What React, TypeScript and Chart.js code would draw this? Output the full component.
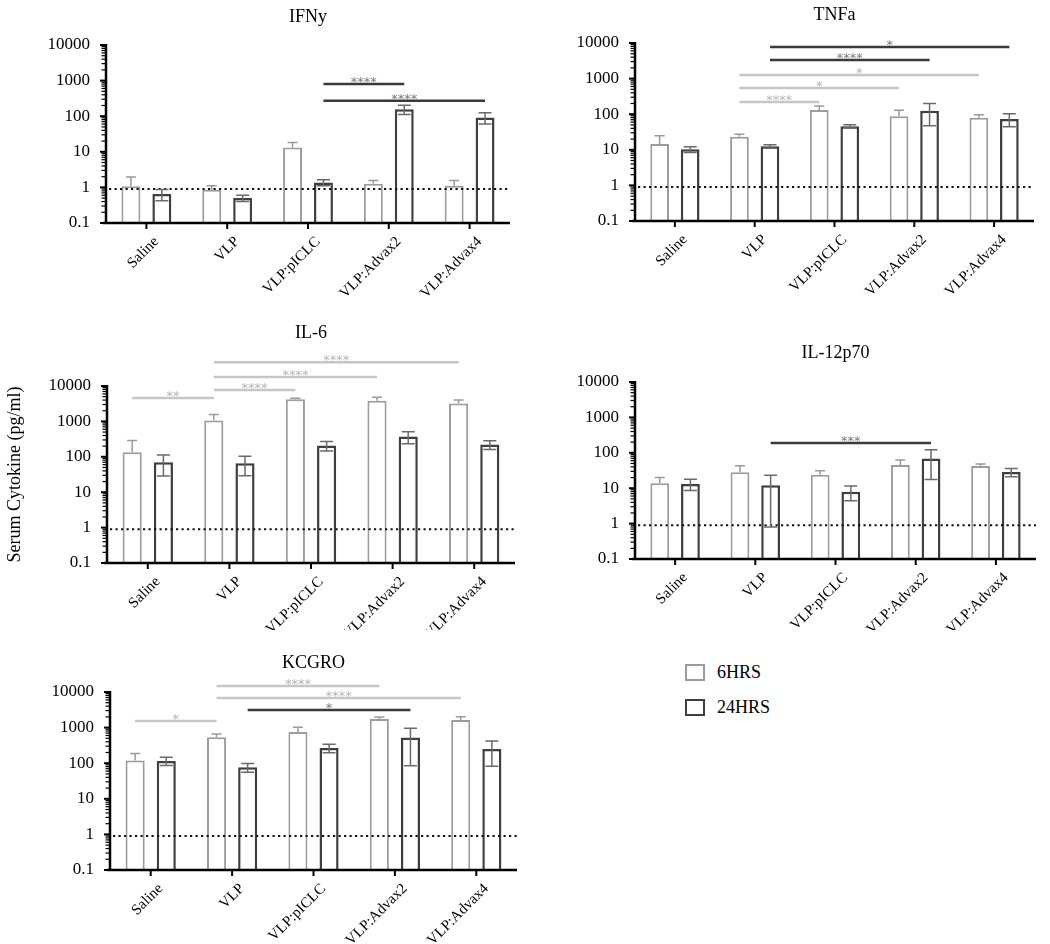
import React, { useEffect, useRef } from 'react';
import { Chart, registerables } from 'chart.js';

Chart.register(...registerables);

const FONT = "'Liberation Serif', 'Times New Roman', Times, serif";
Chart.defaults.font.family = FONT;
Chart.defaults.color = '#000';

// ---------------- data ----------------
const categories = ['Saline', 'VLP', 'VLP:pICLC', 'VLP:Advax2', 'VLP:Advax4'];
const seriesNames = ['6HRS', '24HRS'];
const yTickLabels = [0.1, 1, 10, 100, 1000, 10000];
const yMinorMultipliers = [2, 3, 4, 5, 6, 7, 8, 9];
const detectionLimit = 0.9;
const yAxisTitle = 'Serum Cytokine (pg/ml)';

const ifny6 = [1.07, 0.86, 13.2, 1.27, 1.11];
const ifny6Err = [0.88, 0.25, 5.1, 0.3, 0.46];
const ifny24 = [0.65, 0.5, 1.38, 157, 92];
const ifny24Err = [0.23, 0.1, 0.26, 46, 32];
const ifnySig = [
  { from: 2, to: 3, series: 1, y: 800, label: '****' },
  { from: 2, to: 4, series: 1, y: 270, label: '****' },
];

const tnfa6 = [14.5, 23.3, 132, 87.5, 80];
const tnfa6Err = [10.5, 3.9, 39, 42, 17];
const tnfa24 = [10.3, 12.5, 45.7, 124, 73.5];
const tnfa24Err = [1.9, 1.4, 5, 77, 29];
const tnfaSig = [
  { from: 1, to: 4, series: 1, y: 7700, label: '*' },
  { from: 1, to: 3, series: 1, y: 3330, label: '****' },
  { from: 1, to: 4, series: 0, y: 1260, label: '*' },
  { from: 1, to: 3, series: 0, y: 545, label: '*' },
  { from: 1, to: 2, series: 0, y: 220, label: '****' },
];

const il6_6 = [135, 1054, 4210, 3860, 3180];
const il6_6Err = [153, 500, 280, 930, 850];
const il6_24 = [70.5, 66, 208, 373, 222];
const il6_24Err = [42, 37, 62, 140, 62];
const il6Sig = [
  { from: 0, to: 1, series: 0, y: 4600, label: '**' },
  { from: 1, to: 2, series: 0, y: 7700, label: '****' },
  { from: 1, to: 3, series: 0, y: 18000, label: '****' },
  { from: 1, to: 4, series: 0, y: 47000, label: '****' },
];

const il12_6 = [13.8, 28, 24.1, 45.2, 42.4];
const il12_6Err = [6.1, 15, 7.2, 17, 5.6];
const il12_24 = [13.2, 12.1, 8.0, 69.5, 28.7];
const il12_24Err = [4.6, 11.3, 3.6, 52, 7.5];
const il12Sig = [{ from: 1, to: 3, series: 1, y: 190, label: '***' }];

const kc6 = [119, 536, 756, 1750, 1640];
const kc6Err = [68, 128, 266, 240, 390];
const kc24 = [116, 77, 269, 525, 252];
const kc24Err = [30, 21, 72, 440, 170];
const kcSig = [
  { from: 0, to: 1, series: 0, y: 1530, label: '*' },
  { from: 1, to: 3, series: 0, y: 14700, label: '****' },
  { from: 1, to: 4, series: 0, y: 6800, label: '****' },
  { from: 1, to: 3, series: 1, y: 3100, label: '*' },
];

// ---------------- styles ----------------
const STYLE = {
  bar: ['#9c9c9c', '#3f3f3f'],
  barWidth: [2, 2.5],
  err: ['#9a9a9a', '#6a6a6a'],
  cap: [5, 6.5],
  sigLine: ['#c6c6c6', '#3a3a3a'],
  sigText: ['#b5b5b5', '#7a7a7a'],
};

const yTickValues: number[] = [];
yTickLabels.forEach((v, i) => {
  yTickValues.push(v);
  if (i < yTickLabels.length - 1) {
    yMinorMultipliers.forEach((m) => yTickValues.push(+(v * m).toPrecision(6)));
  }
});

const PANELS = [
  {
    title: 'IFNy', d6: ifny6, e6: ifny6Err, d24: ifny24, e24: ifny24Err, sig: ifnySig,
    layout: { area: { l: 106, t: 45, r: 510, b: 223 }, titleY: 17, canvas: { L: 0, T: 0, W: 520, H: 300 } },
  },
  {
    title: 'TNFa', d6: tnfa6, e6: tnfa6Err, d24: tnfa24, e24: tnfa24Err, sig: tnfaSig,
    layout: { area: { l: 635, t: 43, r: 1034, b: 221 }, titleY: 15, canvas: { L: 540, T: 0, W: 505, H: 300 } },
  },
  {
    title: 'IL-6', d6: il6_6, e6: il6_6Err, d24: il6_24, e24: il6_24Err, sig: il6Sig, yTitle: true,
    layout: { area: { l: 107, t: 386, r: 515, b: 563 }, titleY: 333, canvas: { L: 0, T: 300, W: 522, H: 330 } },
  },
  {
    title: 'IL-12p70', d6: il12_6, e6: il12_6Err, d24: il12_24, e24: il12_24Err, sig: il12Sig,
    layout: { area: { l: 635, t: 382, r: 1036, b: 559 }, titleY: 353, canvas: { L: 540, T: 300, W: 505, H: 330 } },
  },
  {
    title: 'KCGRO', d6: kc6, e6: kc6Err, d24: kc24, e24: kc24Err, sig: kcSig,
    layout: { area: { l: 110, t: 692, r: 517, b: 870 }, titleY: 663, canvas: { L: 0, T: 620, W: 524, H: 324 } },
  },
];

function makeExtras(cfg: any) {
  return {
    id: 'cytoExtras',
    afterDatasetsDraw(chart: any) {
      const { ctx, chartArea } = chart;
      const y = chart.scales.y;
      const x = chart.scales.x;
      ctx.save();
      // detection limit dotted line
      const ly = y.getPixelForValue(detectionLimit);
      ctx.beginPath();
      ctx.setLineDash([2.2, 3.3]);
      ctx.lineWidth = 2;
      ctx.strokeStyle = '#111';
      ctx.moveTo(chartArea.left + 3, ly);
      ctx.lineTo(chartArea.right, ly);
      ctx.stroke();
      ctx.setLineDash([]);
      // error bars
      const vals = [cfg.d6, cfg.d24];
      const errs = [cfg.e6, cfg.e24];
      for (let s = 0; s < 2; s++) {
        const meta = chart.getDatasetMeta(s);
        meta.data.forEach((bar: any, i: number) => {
          const m = vals[s][i];
          const e = errs[s][i];
          const yt = y.getPixelForValue(m + e);
          const lo = m - e;
          const hasLo = s === 1 && lo > y.min;
          const yb = s === 0 ? bar.y : hasLo ? y.getPixelForValue(lo) : chartArea.bottom;
          const cap = STYLE.cap[s];
          ctx.strokeStyle = STYLE.err[s];
          ctx.lineWidth = 1.5;
          ctx.beginPath();
          ctx.moveTo(bar.x, yb);
          ctx.lineTo(bar.x, yt);
          ctx.moveTo(bar.x - cap, yt);
          ctx.lineTo(bar.x + cap, yt);
          if (hasLo) {
            ctx.moveTo(bar.x - cap, yb);
            ctx.lineTo(bar.x + cap, yb);
          }
          ctx.stroke();
        });
      }
      // significance bars
      ctx.font = "13px 'DejaVu Sans', sans-serif";
      ctx.textAlign = 'center';
      ctx.textBaseline = 'alphabetic';
      cfg.sig.forEach((sg: any) => {
        const meta = chart.getDatasetMeta(sg.series);
        const x1 = meta.data[sg.from].x;
        const x2 = meta.data[sg.to].x;
        const py = y.getPixelForValue(sg.y);
        ctx.strokeStyle = STYLE.sigLine[sg.series];
        ctx.lineWidth = 2.5;
        ctx.beginPath();
        ctx.moveTo(x1, py);
        ctx.lineTo(x2, py);
        ctx.stroke();
        ctx.fillStyle = STYLE.sigText[sg.series];
        ctx.fillText(sg.label, (x1 + x2) / 2, py + 2);
      });

      // axes: y line, y ticks (log major+minor), x line and ticks
      ctx.strokeStyle = '#000';
      const ax = chartArea.left;
      ctx.lineWidth = 2.5;
      ctx.beginPath();
      ctx.moveTo(ax, chartArea.top - 1);
      ctx.lineTo(ax, chartArea.bottom + 1);
      ctx.stroke();
      y.ticks.forEach((t: any) => {
        const py = y.getPixelForValue(t.value);
        const major = yTickLabels.includes(t.value);
        ctx.lineWidth = major ? 2 : 1.2;
        ctx.beginPath();
        ctx.moveTo(ax - 1, py);
        ctx.lineTo(ax - (major ? 6 : 4.5), py);
        ctx.stroke();
      });
      ctx.beginPath();
      ctx.moveTo(ax - 3, chartArea.bottom);
      ctx.lineTo(chartArea.right, chartArea.bottom);
      ctx.lineWidth = 2.5;
      ctx.stroke();
      categories.forEach((_c, i) => {
        const px = x.getPixelForTick(i);
        ctx.lineWidth = 2;
        ctx.beginPath();
        ctx.moveTo(px, chartArea.bottom);
        ctx.lineTo(px, chartArea.bottom + 6);
        ctx.stroke();
      });
      ctx.restore();
    },
  };
}

function Panel({ cfg }: { cfg: any }) {
  const ref = useRef<HTMLCanvasElement>(null);
  const { area, canvas, titleY } = cfg.layout;
  useEffect(() => {
    const yw = area.l - canvas.L;
    const padRight = canvas.L + canvas.W - area.r;
    const xh = canvas.T + canvas.H - area.b;
    const titleLH = 18 * 1.2;
    const tTop = titleY - canvas.T - titleLH / 2;
    const tBottom = area.t - canvas.T - tTop - titleLH;
    const chart = new Chart(ref.current as HTMLCanvasElement, {
      type: 'bar',
      data: {
        labels: categories,
        datasets: [
          {
            label: seriesNames[0],
            data: cfg.d6,
            backgroundColor: '#ffffff',
            borderColor: STYLE.bar[0],
            borderWidth: STYLE.barWidth[0],
          },
          {
            label: seriesNames[1],
            data: cfg.d24,
            backgroundColor: '#ffffff',
            borderColor: STYLE.bar[1],
            borderWidth: STYLE.barWidth[1],
          },
        ],
      },
      options: {
        responsive: false,
        animation: false,
        events: [],
        layout: { padding: { left: 0, right: padRight, top: 0, bottom: 0 } },
        datasets: { bar: { categoryPercentage: 0.765, barPercentage: 0.613 } },
        plugins: {
          legend: { display: false },
          tooltip: { enabled: false },
          title: {
            display: true,
            text: cfg.title,
            color: '#000',
            fullSize: false,
            font: { size: 18, weight: 'normal', family: FONT, lineHeight: 1.2 },
            padding: { top: tTop, bottom: tBottom },
          },
        },
        scales: {
          x: {
            grid: { display: false },
            border: { display: false },
            ticks: {
              maxRotation: 45,
              minRotation: 45,
              color: '#000',
              font: { size: 15, family: FONT },
              padding: 2,
              labelOffset: 10,
              autoSkip: false,
            },
            afterFit: (s: any) => { s.height = xh; },
          },
          y: {
            type: 'logarithmic',
            min: yTickLabels[0],
            max: yTickLabels[yTickLabels.length - 1],
            afterBuildTicks: (s: any) => { s.ticks = yTickValues.map((v) => ({ value: v })); },
            ticks: {
              autoSkip: false,
              color: '#000',
              font: { size: 17, family: FONT },
              padding: 8,
              callback: (v: any) => (yTickLabels.includes(v) ? String(v) : ''),
            },
            grid: { display: false },
            border: { display: false },
            title: {
              display: !!cfg.yTitle,
              text: yAxisTitle,
              color: '#000',
              font: { size: 18, family: FONT, lineHeight: 1.2 },
              padding: { top: 4, bottom: 0 },
            },
            afterFit: (s: any) => { s.width = yw; },
          },
        },
      },
      plugins: [makeExtras(cfg)],
    } as any);
    return () => chart.destroy();
  }, []);
  return (
    <canvas
      ref={ref}
      width={canvas.W}
      height={canvas.H}
      style={{ position: 'absolute', left: canvas.L, top: canvas.T, width: canvas.W, height: canvas.H }}
    />
  );
}

export default function App() {
  return (
    <div style={{ position: 'absolute', left: 0, top: 0, width: 1050, height: 944, background: '#fff', overflow: 'hidden' }}>
      {PANELS.map((p) => (
        <Panel key={p.title} cfg={p} />
      ))}
      {seriesNames.map((name, i) => (
        <div
          key={name}
          style={{ position: 'absolute', left: 685, top: 663 + i * 35, display: 'flex', alignItems: 'center', height: 18 }}
        >
          <span
            style={{
              display: 'inline-block',
              width: 16,
              height: 13,
              border: `2px solid ${STYLE.bar[i]}`,
              background: '#fff',
            }}
          />
          <span style={{ marginLeft: 12, fontFamily: FONT, fontSize: 18, color: '#000', lineHeight: '18px' }}>{name}</span>
        </div>
      ))}
    </div>
  );
}
